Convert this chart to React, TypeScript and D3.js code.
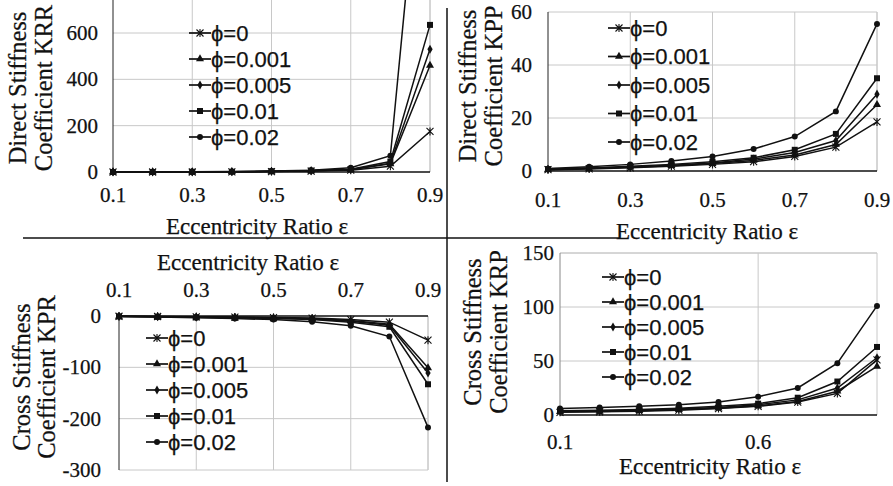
import React from "react";
import * as d3 from "d3";

const epsilon = [0.1, 0.2, 0.3, 0.4, 0.5, 0.6, 0.7, 0.8, 0.9];
const seriesNames = ["ϕ=0", "ϕ=0.001", "ϕ=0.005", "ϕ=0.01", "ϕ=0.02"];
const markerKinds = ["asterisk", "triangle", "diamond", "square", "circle"];

const krr = [
  [0, 0, 0, 1, 2, 4, 8, 25, 175],
  [0, 0, 0, 1, 2, 5, 10, 35, 460],
  [0, 0, 0, 1, 3, 5, 11, 38, 530],
  [0, 0, 1, 1, 3, 6, 12, 45, 635],
  [0, 0, 1, 2, 4, 8, 18, 70, 1850],
];
const kpp = [
  [0.5, 0.8, 1.2, 1.8, 2.5, 3.5, 5.5, 9, 18.5],
  [0.5, 0.9, 1.4, 2, 2.8, 4, 6, 10, 25],
  [0.6, 1, 1.5, 2.2, 3, 4.5, 7, 11.5, 29],
  [0.7, 1.1, 1.8, 2.5, 3.5, 5, 8, 14, 35],
  [0.9, 1.6, 2.5, 3.8, 5.5, 8.3, 13, 22.5, 55.5],
];
const kpr = [
  [-0.5, -1, -1.5, -2, -3, -4, -7, -12, -47],
  [-0.6, -1.2, -2, -2.5, -3.5, -5, -9, -16, -101],
  [-0.7, -1.3, -2.2, -3, -4, -6, -10, -18, -111],
  [-0.8, -1.5, -2.5, -3.5, -5, -7, -12, -21, -133],
  [-1, -2, -3.5, -5, -7, -11, -19, -40, -217],
];
const krp = [
  [2.5, 3, 3.5, 4.5, 6, 8, 12, 20, 51],
  [3, 3.3, 4, 5, 6.3, 8.5, 12.5, 22, 45],
  [3.5, 3.8, 4.5, 5.5, 7, 9.5, 14, 25, 53],
  [4, 4.5, 5.2, 6.2, 8, 10.5, 16, 31, 63],
  [6, 7, 8, 9.5, 12, 17, 25, 48, 101],
];

const xLabelsOdd = ["0.1", "0.3", "0.5", "0.7", "0.9"];
const xLabelsKRP = ["0.1", "0.6"];
const ticksKRR = [0, 200, 400, 600];
const ticksKPP = [0, 20, 40, 60];
const ticksKPR = [0, -100, -200, -300];
const ticksKRP = [0, 50, 100, 150];

const SERIF = "'Liberation Serif', 'Times New Roman', serif";
const SANS = "'Liberation Sans', Arial, sans-serif";
const INK = "#111";

function Marker({ kind, x, y }: { kind: string; x: number; y: number }) {
  if (kind === "asterisk") {
    const r = 3.5;
    return (
      <path
        d={`M${x - r},${y - r}L${x + r},${y + r}M${x - r},${y + r}L${x + r},${y - r}M${x},${y - r - 0.5}L${x},${y + r + 0.5}`}
        stroke={INK}
        strokeWidth={1.1}
        fill="none"
      />
    );
  }
  const sym =
    kind === "triangle"
      ? d3.symbolTriangle
      : kind === "diamond"
      ? d3.symbolDiamond
      : kind === "square"
      ? d3.symbolSquare
      : d3.symbolCircle;
  const size = kind === "square" ? 36 : kind === "triangle" ? 28 : kind === "diamond" ? 24 : 28;
  const d = d3.symbol().type(sym).size(size)() as string;
  return <path d={d} transform={`translate(${x},${y})`} fill={INK} />;
}

type PanelProps = {
  id: string;
  data: number[][];
  x0: number;
  x1: number;
  yScaleDomain: [number, number];
  yScaleRange: [number, number];
  plotTop: number;
  plotBottom: number;
  axisY: number;
  yTicks: number[];
  yTickX: number;
  xLabels: string[];
  xLabelIdx: number[];
  xTickY: number;
  xTitleX: number;
  xTitleY: number;
  yTitle1: string;
  yTitle2: string;
  yTitleX1: number;
  yTitleX2: number;
  yTitleY: number;
  legendX: number;
  legendY0: number;
  legendStep: number;
  frameTop: boolean;
  frameLeftDark: boolean;
};

function Panel(p: PanelProps) {
  const x = d3.scaleLinear().domain([epsilon[0], epsilon[epsilon.length - 1]]).range([p.x0, p.x1]);
  const y = d3.scaleLinear().domain(p.yScaleDomain).range(p.yScaleRange);
  const line = d3
    .line<number>()
    .x((_, i) => x(epsilon[i]))
    .y((v) => y(v));
  const grid = "#c8c8c8";
  const clipId = `clip-${p.id}`;
  const txt = { fill: INK, stroke: INK, strokeWidth: 0.25 };
  return (
    <g>
      <defs>
        <clipPath id={clipId}>
          <rect x={p.x0 - 6} y={p.plotTop - 20} width={p.x1 - p.x0 + 12} height={p.plotBottom - p.plotTop + 26} />
        </clipPath>
      </defs>
      {p.yTicks.map((t) =>
        y(t) === y(0) ? null : (
          <line key={`hg${t}`} x1={p.x0} x2={p.x1} y1={y(t)} y2={y(t)} stroke={grid} strokeWidth={1} />
        )
      )}
      {p.xLabelIdx.map((i) =>
        i === 0 ? null : (
          <line key={`vg${i}`} x1={x(epsilon[i])} x2={x(epsilon[i])} y1={p.plotTop} y2={p.plotBottom} stroke={grid} strokeWidth={1} />
        )
      )}
      <line x1={p.x1} x2={p.x1} y1={p.plotTop} y2={p.plotBottom} stroke={grid} strokeWidth={1} />
      {p.frameTop && <line x1={p.x0} x2={p.x1} y1={p.plotTop} y2={p.plotTop} stroke={grid} strokeWidth={1} />}
      <line x1={p.x0} x2={p.x0} y1={p.plotTop} y2={p.plotBottom} stroke={p.frameLeftDark ? "#222" : "#888"} strokeWidth={1} />
      <line x1={p.x0} x2={p.x1} y1={p.axisY} y2={p.axisY} stroke={INK} strokeWidth={1.4} />
      {p.yTicks.map((t) => (
        <text key={`yt${t}`} x={p.yTickX} y={y(t)} textAnchor="end" dominantBaseline="central" fontFamily={SERIF} fontSize={21} {...txt}>
          {String(t)}
        </text>
      ))}
      {p.xLabels.map((lab, k) => (
        <text key={`xt${k}`} x={x(epsilon[p.xLabelIdx[k]])} y={p.xTickY} textAnchor="middle" dominantBaseline="central" fontFamily={SERIF} fontSize={21} {...txt}>
          {lab}
        </text>
      ))}
      <text x={p.xTitleX} y={p.xTitleY} textAnchor="middle" dominantBaseline="central" fontFamily={SERIF} fontSize={23} {...txt}>
        Eccentricity Ratio ε
      </text>
      <text transform={`translate(${p.yTitleX1},${p.yTitleY}) rotate(-90)`} textAnchor="middle" dominantBaseline="central" fontFamily={SERIF} fontSize={24.5} {...txt}>
        {p.yTitle1}
      </text>
      <text transform={`translate(${p.yTitleX2},${p.yTitleY}) rotate(-90)`} textAnchor="middle" dominantBaseline="central" fontFamily={SERIF} fontSize={24.5} {...txt}>
        {p.yTitle2}
      </text>
      <g clipPath={`url(#${clipId})`}>
        {p.data.map((s, si) => (
          <g key={`s${si}`}>
            <path d={line(s) as string} fill="none" stroke={INK} strokeWidth={1.5} />
            {s.map((v, i) =>
              y(v) < p.plotTop - 2 ? null : <Marker key={i} kind={markerKinds[si]} x={x(epsilon[i])} y={y(v)} />
            )}
          </g>
        ))}
      </g>
      {seriesNames.map((name, si) => {
        const ly = p.legendY0 + si * p.legendStep;
        return (
          <g key={`lg${si}`}>
            <line x1={p.legendX} x2={p.legendX + 22} y1={ly} y2={ly} stroke={INK} strokeWidth={1.7} />
            <Marker kind={markerKinds[si]} x={p.legendX + 11} y={ly} />
            <text x={p.legendX + 22} y={ly} dominantBaseline="central" fontFamily={SANS} fontSize={22} {...txt}>
              {name}
            </text>
          </g>
        );
      })}
    </g>
  );
}

export default function App() {
  const idxOdd = [0, 2, 4, 6, 8];
  const idxKRP = [0, 5];
  return (
    <svg width={893} height={486} style={{ position: "absolute", left: 0, top: 0, background: "#fff" }}>
      <rect x={0} y={0} width={893} height={486} fill="#fff" />
      <Panel
        id="krr"
        data={krr}
        x0={113}
        x1={430}
        yScaleDomain={[0, 600]}
        yScaleRange={[172, 33]}
        plotTop={-2}
        plotBottom={172}
        axisY={172}
        yTicks={ticksKRR}
        yTickX={98}
        xLabels={xLabelsOdd}
        xLabelIdx={idxOdd}
        xTickY={195}
        xTitleX={257}
        xTitleY={226}
        yTitle1="Direct Stiffness"
        yTitle2="Coefficient KRR"
        yTitleX1={17}
        yTitleX2={43}
        yTitleY={88}
        legendX={189}
        legendY0={33}
        legendStep={26}
        frameTop={false}
        frameLeftDark={true}
      />
      <Panel
        id="kpp"
        data={kpp}
        x0={548}
        x1={877}
        yScaleDomain={[0, 60]}
        yScaleRange={[171, 12]}
        plotTop={12}
        plotBottom={171}
        axisY={171}
        yTicks={ticksKPP}
        yTickX={532}
        xLabels={xLabelsOdd}
        xLabelIdx={idxOdd}
        xTickY={200}
        xTitleX={707}
        xTitleY={231}
        yTitle1="Direct Stiffness"
        yTitle2="Coefficient KPP"
        yTitleX1={467}
        yTitleX2={493}
        yTitleY={86}
        legendX={608}
        legendY0={28}
        legendStep={28.5}
        frameTop={false}
        frameLeftDark={true}
      />
      <Panel
        id="kpr"
        data={kpr}
        x0={119}
        x1={428}
        yScaleDomain={[0, -300]}
        yScaleRange={[316, 470]}
        plotTop={316}
        plotBottom={470}
        axisY={316}
        yTicks={ticksKPR}
        yTickX={101}
        xLabels={xLabelsOdd}
        xLabelIdx={idxOdd}
        xTickY={290}
        xTitleX={248}
        xTitleY={262}
        yTitle1="Cross Stiffness"
        yTitle2="Coefficient KPR"
        yTitleX1={21}
        yTitleX2={46}
        yTitleY={377}
        legendX={146}
        legendY0={338}
        legendStep={26}
        frameTop={false}
        frameLeftDark={true}
      />
      <Panel
        id="krp"
        data={krp}
        x0={560}
        x1={877}
        yScaleDomain={[0, 150]}
        yScaleRange={[415, 253]}
        plotTop={253}
        plotBottom={415}
        axisY={415}
        yTicks={ticksKRP}
        yTickX={554}
        xLabels={xLabelsKRP}
        xLabelIdx={idxKRP}
        xTickY={442}
        xTitleX={710}
        xTitleY={466}
        yTitle1="Cross Stiffness"
        yTitle2="Coefficient KRP"
        yTitleX1={472}
        yTitleX2={498}
        yTitleY={332}
        legendX={602}
        legendY0={277}
        legendStep={25}
        frameTop={true}
        frameLeftDark={false}
      />
      <line x1={447} x2={447} y1={8} y2={482} stroke={INK} strokeWidth={1.5} />
      <line x1={23} x2={620} y1={238} y2={238} stroke={INK} strokeWidth={1.5} />
    </svg>
  );
}
